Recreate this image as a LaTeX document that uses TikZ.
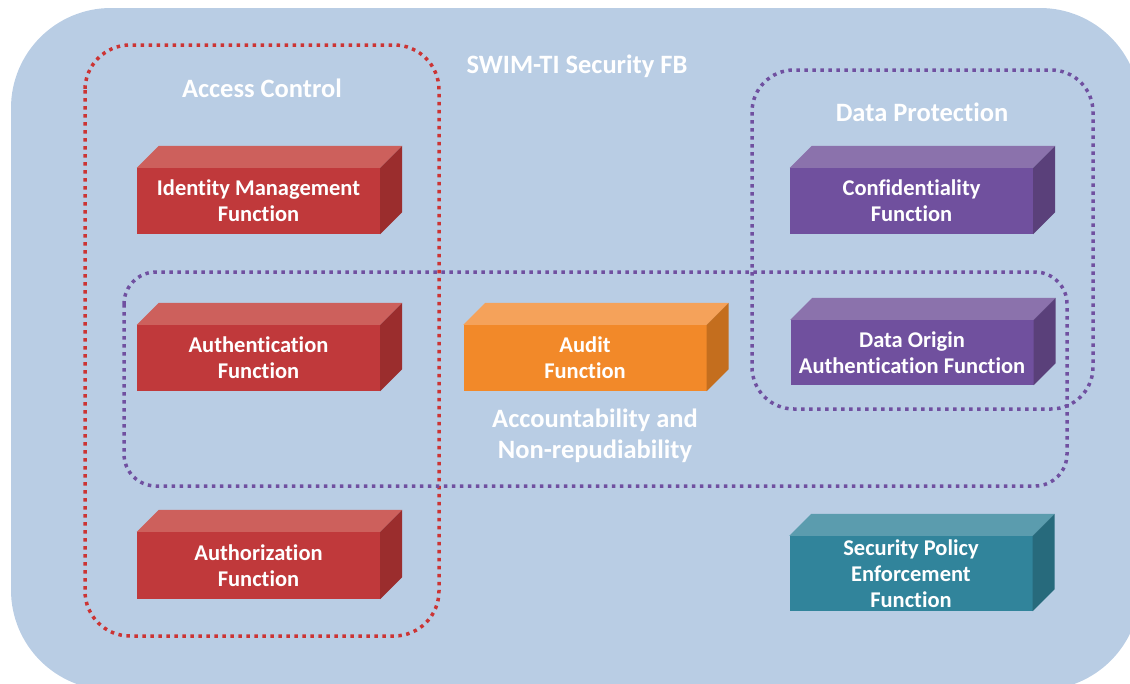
\documentclass[tikz,border=0pt]{standalone}
\usepackage{fontspec}
\setmainfont{Carlito}[Ligatures=NoCommon]
\usepackage{tikz}

% colours
\definecolor{bgblue}{RGB}{185,205,228}
\definecolor{fRed}{RGB}{192,57,59}
\definecolor{tRed}{RGB}{205,96,92}
\definecolor{sRed}{RGB}{155,45,45}
\definecolor{fOrange}{RGB}{242,137,41}
\definecolor{tOrange}{RGB}{245,162,90}
\definecolor{sOrange}{RGB}{196,110,30}
\definecolor{fPurple}{RGB}{112,80,158}
\definecolor{tPurple}{RGB}{139,114,172}
\definecolor{sPurple}{RGB}{90,64,122}
\definecolor{fTeal}{RGB}{49,132,155}
\definecolor{tTeal}{RGB}{91,156,174}
\definecolor{sTeal}{RGB}{39,106,124}
\definecolor{dotred}{RGB}{204,52,52}
\definecolor{dotpurple}{RGB}{112,80,160}

\tikzset{
	fnbox/.style={minimum width=243pt, inner sep=0pt, align=center, text=white,
		font=\fontsize{22.5}{26}\selectfont\bfseries},
	grouptitle/.style={text=white, align=center, font=\fontsize{26.5}{31}\selectfont\bfseries},
	dots/.style={line width=3.5pt, dash pattern=on 3.5pt off 4.5pt}
}

\begin{document}
\begin{tikzpicture}[x=1pt,y=-1pt]
				\useasboundingbox (0,0) rectangle (1130,683);
				\fill[bgblue, rounded corners=100pt] (11,8) rectangle (1140,690);
				
				% function boxes: name/x/y/colour/height/text
				\foreach \n/\x/\y/\c/\h/\t in
				{idm/258.5/201/Red/66/{Identity Management\\Function},
				 authn/258.5/358/Red/66/{Authentication\\Function},
				 authz/258.5/565.5/Red/67/{Authorization\\Function},
				 audit/585/358/Orange/66/{Audit\\Function},
				 conf/911.5/201/Purple/66/{Confidentiality\\Function},
				 dorig/912/352.5/Purple/65/{Data Origin\\Authentication Function},
				 spef/911/573.5/Teal/75/{Security Policy\\Enforcement\\Function}}{
					\node[fnbox, fill=f\c, minimum height=\h pt] (\n) at (\x,\y) {\t};
					\fill[t\c] (\n.north west) -- ++(22,-22) -- ([shift={(22,-22)}]\n.north east) -- (\n.north east) -- cycle;
					\fill[s\c] (\n.north east) -- ++(22,-22) -- ([shift={(22,-22)}]\n.south east) -- (\n.south east) -- cycle;
				}
				
				% groups
				\draw[dots, dotred, rounded corners=45pt] (85,45) rectangle (439,636);
				\draw[dots, dotpurple, rounded corners=42pt] (752,70) rectangle (1093,409);
				\draw[dots, dotpurple, rounded corners=32pt] (124,272) rectangle (1067,486);
				
				% titles
				\node[grouptitle] (swim) at (577,66) {SWIM-TI Security FB};
				\node[grouptitle] (access) at (262,88) {Access Control};
				\node[grouptitle] (dprot) at (922,112) {Data Protection};
				\node[grouptitle] (account) at (595,436) {Accountability and\\Non-repudiability};
			\end{tikzpicture}
\end{document}
